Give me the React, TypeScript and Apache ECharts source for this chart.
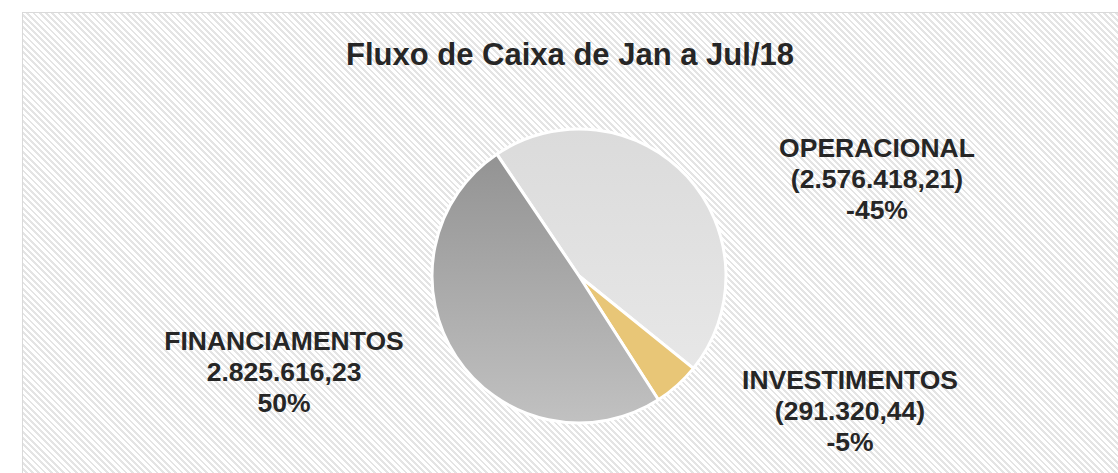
import React, { useEffect, useRef } from "react";
import * as echarts from "echarts";

const TITLE = "Fluxo de Caixa de Jan a Jul/18";
const categories = ["OPERACIONAL", "INVESTIMENTOS", "FINANCIAMENTOS"];
const values = [-2576418.21, -291320.44, 2825616.23];

function fmtBR(v: number): string {
  const abs = Math.abs(v);
  const fixed = abs.toFixed(2);
  const [intPart, dec] = fixed.split(".");
  const withDots = intPart.replace(/\B(?=(\d{3})+(?!\d))/g, ".");
  return withDots + "," + dec;
}

export default function App() {
  const ref = useRef<HTMLDivElement>(null);
  useEffect(() => {
    if (!ref.current) return;
    const chart = echarts.init(ref.current, undefined, { renderer: "svg" });
    const total = values.reduce((s, v) => s + Math.abs(v), 0);
    const sliceColors = [
      new echarts.graphic.LinearGradient(0, 0, 0, 1, [
        { offset: 0, color: "#dbdbdb" },
        { offset: 1, color: "#e7e7e7" },
      ]),
      "#e8c677",
      new echarts.graphic.LinearGradient(0, 0, 0, 1, [
        { offset: 0, color: "#939393" },
        { offset: 1, color: "#c1c1c1" },
      ]),
    ];
    const labelPos = [
      [877, 179],
      [850, 411],
      [284, 372],
    ];
    chart.setOption({
      animation: false,
      backgroundColor: "transparent",
      title: {
        text: TITLE,
        left: 565,
        top: 34,
        textAlign: "center",
        textStyle: {
          fontFamily: "Liberation Sans, Arial, sans-serif",
          fontSize: 31,
          fontWeight: "bold",
          color: "#262626",
        },
      },
      series: [
        {
          type: "pie",
          center: [579, 276],
          radius: 147,
          startAngle: 124,
          clockwise: true,
          avoidLabelOverlap: false,
          itemStyle: { borderColor: "#ffffff", borderWidth: 3 },
          label: {
            show: true,
            position: "outside",
            fontFamily: "Liberation Sans, Arial, sans-serif",
            fontSize: 26.5,
            fontWeight: "bold",
            color: "#262626",
            lineHeight: 31,
            align: "center",
            formatter: (p: any) => {
              const v = values[p.dataIndex];
              const pct = Math.round((Math.abs(v) / total) * 100);
              const num = v < 0 ? "(" + fmtBR(v) + ")" : fmtBR(v);
              const pctStr = (v < 0 ? "-" : "") + pct + "%";
              return categories[p.dataIndex] + "\n" + num + "\n" + pctStr;
            },
          },
          labelLine: { show: false },
          labelLayout: (p: any) => ({
            x: labelPos[p.dataIndex][0],
            y: labelPos[p.dataIndex][1],
            align: "center",
            verticalAlign: "middle",
          }),
          data: categories.map((c, i) => ({
            name: c,
            value: Math.abs(values[i]),
            itemStyle: { color: sliceColors[i] },
          })),
        },
      ],
    });
    return () => chart.dispose();
  }, []);

  return (
    <div
      style={{
        position: "absolute",
        left: 0,
        top: 0,
        width: 1118,
        height: 473,
        background: "#ffffff",
        overflow: "hidden",
      }}
    >
      <div
        style={{
          position: "absolute",
          left: 22,
          top: 12,
          width: 1100,
          height: 470,
          borderLeft: "1px solid #d9d9d9",
          borderTop: "1px solid #d9d9d9",
          background:
            "repeating-linear-gradient(45deg, #e4e4e4 0px, #e4e4e4 2px, #ffffff 2px, #ffffff 4.4px)",
        }}
      />
      <div
        ref={ref}
        style={{ position: "absolute", left: 0, top: 0, width: 1118, height: 473 }}
      />
    </div>
  );
}
